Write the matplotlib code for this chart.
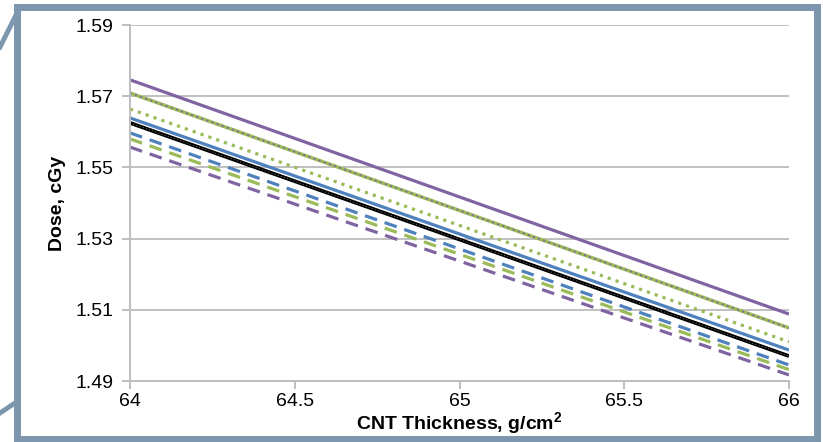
import numpy as np
import matplotlib.pyplot as plt
from matplotlib.patches import Rectangle
from matplotlib.lines import Line2D

plt.rcParams['font.family'] = ['Liberation Sans', 'DejaVu Sans']

# thickness range (g/cm2) and dose at each end for every series
x = [64, 66]
purple_solid = [1.5746, 1.5088]
green_solid = [1.5709, 1.5049]
green_dot = [1.5664, 1.5010]
blue_solid = [1.5639, 1.4987]
black_solid = [1.5625, 1.4970]
blue_dash = [1.5597, 1.4945]
green_dash = [1.5580, 1.4932]
purple_dash = [1.5557, 1.4917]

yticks = [1.49, 1.51, 1.53, 1.55, 1.57, 1.59]
xticks = [64, 64.5, 65, 65.5, 66]

purple = '#8064A2'
green = '#9BBB59'
blue = '#4F81BD'
frame_col = '#7C96AE'

fig = plt.figure(figsize=(8.23, 4.42), dpi=100)
ax = fig.add_axes([130 / 823, 1 - 381 / 442, 659 / 823, 356 / 442])

ax.plot(x, purple_solid, color=purple, lw=2.3, solid_capstyle='butt')
ax.plot(x, green_solid, color=green, lw=2.5, solid_capstyle='butt')
ax.plot(x, green_solid, color=purple, lw=1.3, linestyle=(0, (1, 2)))
ax.plot(x, green_dot, color=green, lw=2.3, linestyle=(0, (1, 1.6)))
ax.plot(x, blue_solid, color=blue, lw=2.3, solid_capstyle='butt')
ax.plot(x, black_solid, color='black', lw=2.7, solid_capstyle='butt')
ax.plot(x, black_solid, color='white', lw=0.4, alpha=0.7, linestyle=(0, (2, 4)))
ax.plot(x, blue_dash, color=blue, lw=2.3, linestyle=(0, (4, 2.5)))
ax.plot(x, green_dash, color=green, lw=2.3, linestyle=(0, (4, 2.5)))
ax.plot(x, purple_dash, color=purple, lw=2.3, linestyle=(0, (4, 2.5)))

ax.set_xlim(64, 66)
ax.set_ylim(1.49, 1.59)
ax.set_xticks(xticks)
ax.set_xticklabels(['64', '64.5', '65', '65.5', '66'])
ax.set_yticks(yticks)
ax.set_yticklabels(['%.2f' % v for v in yticks])
ax.yaxis.grid(True, color='#C0C0C0', lw=1.4)
ax.set_axisbelow(True)
for s in ['top', 'right']:
    ax.spines[s].set_visible(False)
for s in ['left', 'bottom']:
    ax.spines[s].set_color('#BEBEBE')
    ax.spines[s].set_linewidth(1.4)
ax.tick_params(axis='both', colors='#BEBEBE', labelcolor='black', labelsize=14,
               length=6, width=1.4)
ax.tick_params(axis='x', pad=3)
ax.tick_params(axis='y', pad=6)

ax.set_xlabel('CNT Thickness, g/cm$^{\\mathregular{2}}$', fontsize=14, fontweight='bold', labelpad=0)
ax.set_ylabel('Dose, cGy', fontsize=14, fontweight='bold', labelpad=7)

# outer frame and callout lines
W, H = 823, 442
fig.patches.append(Rectangle((16.5 / W, 1 - 439 / H), 800 / W, 432 / H,
                             transform=fig.transFigure, fill=False,
                             edgecolor=frame_col, lw=5.0, zorder=10))
fig.lines.append(Line2D([0, 17 / W], [1 - 47 / H, 1 - 13 / H], transform=fig.transFigure,
                        color=frame_col, lw=3.5))
fig.lines.append(Line2D([0, 15 / W], [1 - 413 / H, 1 - 403 / H], transform=fig.transFigure,
                        color=frame_col, lw=3.5))

fig.savefig('out.png', dpi=100)
